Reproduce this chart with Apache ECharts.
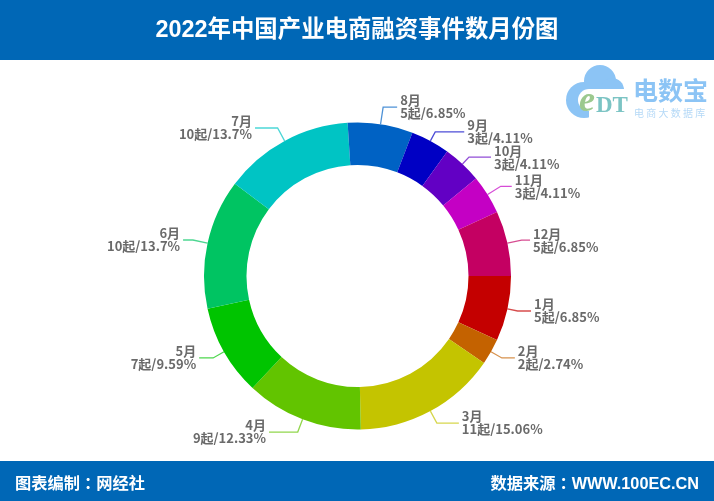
<!DOCTYPE html>
<html><head><meta charset="utf-8">
<style>html,body{margin:0;padding:0;background:#fff}#c{width:714px;height:501px}</style>
<script src="https://cdn.jsdelivr.net/npm/echarts@6/dist/echarts.min.js"></script>
</head><body><div id="c"></div>
<script>
const months=['1月','2月','3月','4月','5月','6月','7月','8月','9月','10月','11月','12月'];
const counts=[5,2,11,9,7,10,10,5,3,3,3,5];
const colors=['#c40000','#c46200','#c4c400','#62c400','#00c400','#00c462','#00c4c4','#0062c4','#0000c4','#6200c4','#c400c4','#c40062'];
const leaderFirst=[10.4,12.5,13.6,13.6,12.5,15,14.7,17.4,10.2,9.5,15.5,14.5];
const leaderSecond=[13.4,13,22,28.7,14,9.8,22.6,14,29,22,11,8.4];
const titleText='2022年中国产业电商融资事件数月份图';
const footerLeft='图表编制：网经社';
const footerRight='数据来源：WWW.100EC.CN';
const logoName='电数宝';
const logoSub='电 商 大 数 据 库';
const latinCjk='"Liberation Sans","Noto Sans CJK TC",sans-serif';
const blue='#0067b6';
const logo='#8cc4f5';
const chart=echarts.init(document.getElementById('c'),null,{renderer:'canvas'});
chart.setOption({
  animation:false,
  backgroundColor:'#fff',
  color:colors,
  graphic:[
    {type:'rect',shape:{x:0,y:0,width:714,height:60},style:{fill:blue},z:0},
    {type:'rect',shape:{x:0,y:461,width:714,height:40},style:{fill:blue},z:0},
    {type:'text',x:357,y:31,style:{text:titleText,fill:'#fff',font:'bold 23.4px '+latinCjk,align:'center',verticalAlign:'middle'},z:5},
    {type:'text',x:15,y:485,style:{text:footerLeft,fill:'#fff',font:'bold 16.25px '+latinCjk,align:'left',verticalAlign:'middle'},z:5},
    {type:'text',x:699,y:485,style:{text:footerRight,fill:'#fff',font:'bold 16.25px '+latinCjk,align:'right',verticalAlign:'middle'},z:5},
    {type:'circle',shape:{cx:584,cy:100,r:18},style:{fill:logo},z:1},
    {type:'circle',shape:{cx:600,cy:81,r:16},style:{fill:logo},z:1},
    {type:'circle',shape:{cx:612,cy:90,r:12},style:{fill:logo},z:1},
    {type:'circle',shape:{cx:589,cy:100,r:11},style:{fill:'#fff'},z:2},
    {type:'rect',shape:{x:589,y:89,width:38,height:30},style:{fill:'#fff'},z:2},
    {type:'text',x:579,y:102,style:{text:'e',fill:'#9cc98f',font:'bold italic 36px "Liberation Serif",serif',align:'left',verticalAlign:'middle'},z:3},
    {type:'text',x:596,y:106,style:{text:'DT',fill:'#7cc4c4',font:'bold 23px "Liberation Serif",serif',align:'left',verticalAlign:'middle'},z:3},
    {type:'text',x:633,y:90,style:{text:logoName,fill:logo,font:'bold 25px "Noto Sans CJK SC",sans-serif',align:'left',verticalAlign:'middle'},z:3},
    {type:'text',x:634,y:113,style:{text:logoSub,fill:'#b5d9f7',font:'10px "Noto Sans CJK SC",sans-serif',align:'left',verticalAlign:'middle'},z:3}
  ],
  series:[{
    type:'pie',
    center:[357.5,276],
    radius:[111,153.5],
    startAngle:0,
    clockwise:true,
    percentPrecision:2,
    avoidLabelOverlap:false,
    labelLayout:{hideOverlap:false},
    label:{
      formatter:p=>p.name+'\n'+p.value+'起/'+p.percent+'%',
      color:'#6a6a6a',fontSize:13,fontWeight:'bold',lineHeight:13,distanceToLabelLine:3,
      padding:[0,0,4,0],
      fontFamily:'"Noto Sans CJK SC",sans-serif'
    },
    labelLine:{show:true,lineStyle:{width:1.3,opacity:0.7}},
    itemStyle:{borderWidth:0},
    emphasis:{disabled:true},
    data:months.map((m,i)=>({name:m,value:counts[i],labelLine:{length:leaderFirst[i],length2:leaderSecond[i]}}))
  }]
});
</script></body></html>
